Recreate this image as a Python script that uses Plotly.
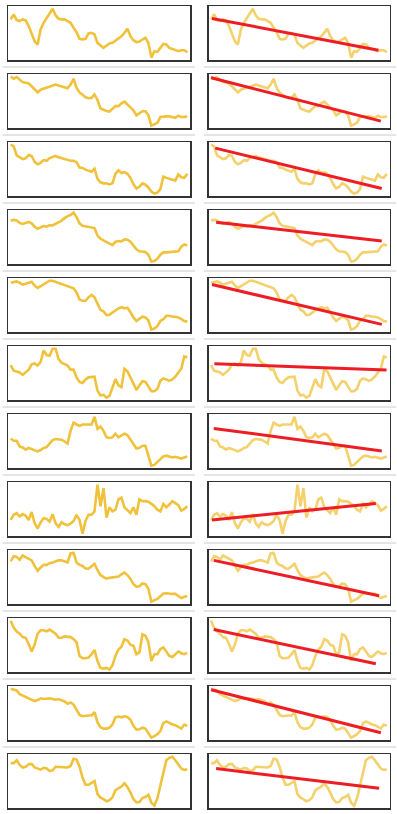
import plotly.graph_objects as go

# ---- data (relative index values, 60 observations per series) ----
s1 = [121,136,119,116,121,118,101,81,56,46, 91,111,126,141,153,133,123,121,121,116,
      111,96,83,63,61,63,79,81,76,51, 43,36,43,49,51,57,63,71,81,93,
      71,59,53,55,61,66,51,7,26,24, 36,48,46,36,33,29,26,29,29,23]
s2 = [153,147,152,144,137,135,133,125,115,107, 115,118,120,123,126,130,127,124,122,119,
      130,147,120,107,100,93,90,91,101,85, 60,56,53,51,60,67,67,75,80,71,
      63,55,40,47,52,52,40,10,14,18, 35,37,37,37,36,33,39,35,35,37]
s3 = [152,147,121,115,110,112,122,119,102,95, 99,107,105,113,117,119,115,112,111,107,
      105,105,101,85,84,79,75,73,82,52, 42,39,39,36,39,67,77,69,72,67,
      55,37,24,29,39,35,27,15,9,12, 22,59,55,52,49,47,65,57,55,67]
s4 = [133,135,133,126,123,127,129,125,115,109, 113,117,115,119,119,123,127,133,140,146,
      149,156,143,125,118,116,113,113,111,89, 80,75,71,66,61,71,73,72,78,77,
      71,60,49,43,43,41,33,13,15,21, 33,40,40,41,43,43,43,57,63,60]
s5 = [147,149,151,147,142,144,147,150,139,132, 137,142,147,153,153,150,148,145,141,139,
      135,131,119,99,95,95,105,112,105,89, 69,65,54,55,60,67,73,77,73,75,
      62,47,37,44,49,47,39,12,15,22, 37,42,52,52,49,49,47,42,37,35]
s6 = [104,88,86,83,76,83,91,106,109,103, 113,146,133,131,151,151,121,111,107,103,
      91,91,69,56,53,63,69,71,71,31, 17,19,11,16,41,64,46,41,93,86,
      69,51,33,46,58,56,43,29,29,36, 59,66,63,59,63,71,83,94,129,126]
s7 = [86,80,80,64,61,55,60,56,52,50, 54,60,62,71,82,85,85,83,78,72,
      108,131,126,122,126,126,124,126,148,114, 120,108,90,88,90,100,90,96,100,96,
      83,68,58,60,66,66,38,10,12,20, 28,36,38,35,33,35,32,30,33,36]
s8 = [47,62,67,57,64,59,47,70,37,22, 40,52,50,42,64,37,27,40,34,32,
      36,44,62,47,7,44,62,62,72,150, 87,140,54,84,72,77,107,112,84,74,
      67,84,62,107,102,102,100,94,87,77, 72,94,84,92,102,96,90,74,79,87]
s9 = [127,142,140,132,144,139,134,130,114,100, 110,117,117,122,124,128,130,130,126,124,
      150,152,124,117,114,107,106,112,120,102, 88,82,78,80,82,82,84,90,95,88,
      77,62,55,56,64,62,49,12,15,20, 27,35,36,34,34,34,29,22,26,28]
s10 = [154,134,122,116,106,104,86,64,84,116, 126,126,123,128,122,116,104,104,108,108,
       106,100,91,51,44,44,46,56,68,36, 16,14,16,11,24,51,70,78,100,96,
       84,81,56,61,114,110,91,36,56,56, 71,76,63,51,48,56,64,59,56,60]
s11 = [153,151,148,137,133,129,125,120,117,120, 125,123,125,125,123,121,123,119,116,109,
       113,107,90,77,73,75,75,75,85,55, 41,37,37,40,49,70,72,70,73,71,
       63,45,34,35,40,37,25,11,15,21, 30,53,58,53,49,47,43,37,49,45]
s12 = [128,128,136,123,116,118,125,126,116,113, 110,115,113,106,108,118,118,116,116,116,
       120,140,138,118,88,68,68,72,78,42, 32,28,22,25,33,53,58,63,72,62,
       46,28,19,20,31,34,40,18,10,30, 66,98,136,143,146,136,123,113,109,111]
series = [s1, s2, s3, s4, s5, s6, s7, s8, s9, s10, s11, s12]

# trend lines (start/end index and value) for the right column
trend_x0 = [0.3, 0, 1.4, 1.7, 0.3, 1.1, 0.9, 0.3, 0.9, 0.9, 0, 1.7]
trend_x1 = [56.2, 57, 57.3, 57.3, 57.3, 58.9, 57.3, 55.3, 56.4, 55.3, 57, 56.4]
trend_y0 = [124, 150, 142, 128, 142, 108, 115, 47, 130, 128, 150, 113]
trend_y1 = [29, 23, 24, 73, 27, 90, 51, 95, 29, 28, 25, 58]

# ---- styling ----
W, H = 397, 814
YELLOW = "#F0C23B"
RED = "#EE1C25"
BORDER = "#333333"
SEP = "#DDDDDD"

fig = go.Figure()
layout = dict(width=W, height=H, margin=dict(l=0, r=0, t=0, b=0),
              paper_bgcolor="white", plot_bgcolor="white", showlegend=False)

col_dom = [(8.3 / W, 190.0 / W), (208.7 / W, 389.5 / W)]
shapes = []

for r, vals in enumerate(series):
    xs = list(range(len(vals)))
    lo, hi = min(vals), max(vals)
    pad = 0.055 * (hi - lo)
    yr = [lo - pad, hi + pad]
    top_px = 6 + 68 * r
    bot_px = 60.3 + 68 * r
    ydom = [1 - bot_px / H, 1 - top_px / H]
    for c in range(2):
        n = r * 2 + c + 1
        xa = "x" if n == 1 else f"x{n}"
        ya = "y" if n == 1 else f"y{n}"
        fig.add_trace(go.Scatter(x=xs, y=vals, mode="lines",
                                 line=dict(color=YELLOW, width=2.6),
                                 opacity=1.0 if c == 0 else 0.75,
                                 xaxis=xa, yaxis=ya, hoverinfo="skip"))
        if c == 1:
            fig.add_trace(go.Scatter(x=[trend_x0[r], trend_x1[r]],
                                     y=[trend_y0[r], trend_y1[r]],
                                     mode="lines", line=dict(color=RED, width=3),
                                     xaxis=xa, yaxis=ya, hoverinfo="skip"))
        ax_common = dict(showgrid=False, zeroline=False, showticklabels=False,
                         ticks="", showline=True, mirror=True,
                         linecolor=BORDER, linewidth=1.5, fixedrange=True)
        layout["xaxis" if n == 1 else f"xaxis{n}"] = dict(
            domain=list(col_dom[c]), range=[-0.8, 59.9], anchor=ya, **ax_common)
        layout["yaxis" if n == 1 else f"yaxis{n}"] = dict(
            domain=ydom, range=yr, anchor=xa, **ax_common)
    if r < 11:
        ysep = 1 - (67 + 68 * r) / H
        for (x0, x1) in [(2.7 / W, 195.0 / W), (203.7 / W, 396.0 / W)]:
            shapes.append(dict(type="line", xref="paper", yref="paper",
                               x0=x0, x1=x1, y0=ysep, y1=ysep,
                               line=dict(color=SEP, width=1.5)))

layout["shapes"] = shapes
fig.update_layout(**layout)
fig.write_html("out.html", config={"displayModeBar": False, "staticPlot": True},
               post_script="document.body.style.margin='0';document.body.style.overflow='hidden';")
